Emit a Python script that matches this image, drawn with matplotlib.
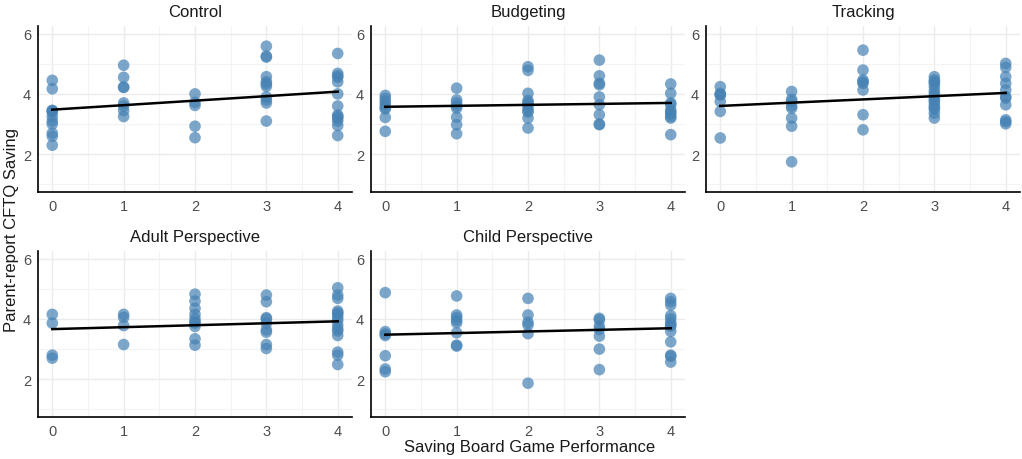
import numpy as np
import matplotlib
matplotlib.use("Agg")
import matplotlib.pyplot as plt
from matplotlib.ticker import MultipleLocator

plt.rcParams['font.family'] = ['Liberation Sans', 'DejaVu Sans']

# Saving board game performance (x) -> parent-report CFTQ saving (y), one dict entry per x level
conditions = ["Control", "Budgeting", "Tracking", "Adult Perspective", "Child Perspective"]

control = {
    0: [4.45, 4.17, 3.45, 3.45, 3.4, 3.25, 3.1, 3.0, 2.7, 2.6, 2.3],
    1: [4.95, 4.55, 4.22, 4.22, 3.7, 3.6, 3.45, 3.25],
    2: [4.0, 3.72, 3.62, 2.93, 2.55],
    3: [5.58, 5.25, 5.22, 4.57, 4.4, 4.33, 4.25, 3.9, 3.8, 3.7, 3.1],
    4: [5.34, 4.68, 4.6, 4.55, 4.4, 4.0, 3.6, 3.3, 3.25, 3.2, 3.1, 2.95, 2.62],
}
budgeting = {
    0: [3.95, 3.85, 3.75, 3.65, 3.55, 3.5, 3.22, 2.76],
    1: [4.19, 3.8, 3.7, 3.6, 3.53, 3.23, 2.98, 2.68],
    2: [4.9, 4.78, 4.02, 3.78, 3.72, 3.65, 3.55, 3.45, 3.4, 3.2, 2.87],
    3: [5.12, 4.6, 4.35, 4.3, 3.9, 3.64, 3.31, 3.0, 2.98],
    4: [4.33, 4.02, 3.7, 3.65, 3.47, 3.4, 3.34, 3.25, 3.2, 2.65],
}
tracking = {
    0: [4.24, 4.02, 3.97, 3.97, 3.75, 3.42, 2.54],
    1: [4.08, 3.82, 3.75, 3.6, 3.53, 3.2, 2.93, 1.75],
    2: [5.45, 4.79, 4.46, 4.4, 4.35, 4.13, 3.31, 2.81],
    3: [4.57, 4.46, 4.4, 4.35, 4.24, 4.1, 4.0, 3.9, 3.8, 3.75, 3.64, 3.55, 3.5, 3.36, 3.2],
    4: [5.01, 4.88, 4.57, 4.35, 4.13, 3.91, 3.86, 3.64, 3.14, 3.08, 3.01],
}
adult = {
    0: [4.15, 3.86, 2.8, 2.7],
    1: [4.15, 4.05, 3.78, 3.15],
    2: [4.82, 4.59, 4.35, 4.15, 4.0, 3.9, 3.86, 3.75, 3.34, 3.13],
    3: [4.79, 4.57, 4.04, 4.0, 3.86, 3.64, 3.56, 3.15, 3.02],
    4: [5.03, 4.79, 4.68, 4.26, 4.2, 4.15, 4.05, 3.95, 3.8, 3.67, 3.6, 3.45, 2.9, 2.8, 2.49],
}
child = {
    0: [4.87, 3.58, 3.5, 3.45, 2.78, 2.34, 2.25],
    1: [4.76, 4.13, 4.05, 3.95, 3.87, 3.54, 3.13, 3.1],
    2: [4.68, 4.13, 3.89, 3.8, 3.51, 1.87],
    3: [4.02, 3.97, 3.76, 3.65, 3.43, 3.0, 2.32],
    4: [4.68, 4.57, 4.46, 4.11, 4.0, 3.87, 3.8, 3.76, 3.59, 3.24, 2.8, 2.76, 2.57],
}
panels = [control, budgeting, tracking, adult, child]

fig = plt.figure(figsize=(10.22, 4.6), dpi=100)
W, H = 1022, 460
lefts = [38, 371, 706]
bottoms_top = [27, 252]   # top pixel of each row
pw, ph = 314, 166

for i, (name, d) in enumerate(zip(conditions, panels)):
    r, c = divmod(i, 3)
    x0 = lefts[c]
    y0 = bottoms_top[r]
    ax = fig.add_axes([x0 / W, 1 - (y0 + ph) / H, pw / W, ph / H])

    xs = np.concatenate([[k] * len(v) for k, v in d.items()])
    ys = np.concatenate([v for v in d.values()])
    ax.scatter(xs, ys, s=70, color="#4682B4", alpha=0.7, edgecolors="none", zorder=3)

    # linear fit line
    b, a = np.polyfit(xs, ys, 1)
    xl = np.array([0, 4])
    ax.plot(xl, a + b * xl, color="black", lw=1.8, zorder=4)

    ax.set_xlim(-0.2, 4.2)
    ax.set_ylim(0.75, 6.25)
    ax.set_xticks([0, 1, 2, 3, 4])
    ax.set_yticks([2, 4, 6])
    ax.xaxis.set_minor_locator(MultipleLocator(0.5))
    ax.yaxis.set_minor_locator(MultipleLocator(1))
    ax.grid(True, which="major", color="#ebebeb", lw=1.0, zorder=0)
    ax.grid(True, which="minor", color="#f3f3f3", lw=0.8, zorder=0)
    ax.set_axisbelow(True)
    for s in ["top", "right"]:
        ax.spines[s].set_visible(False)
    for s in ["left", "bottom"]:
        ax.spines[s].set_color("black")
        ax.spines[s].set_linewidth(1.2)
    ax.tick_params(which="both", length=0, labelsize=10.5, labelcolor="#4d4d4d", pad=5)
    ax.set_title(name, fontsize=12, color="#1a1a1a", pad=7)

fig.text(12 / W, 0.5, "Parent-report CFTQ Saving", rotation=90, va="center", ha="center",
         fontsize=12, color="#1a1a1a")
fig.text(530 / W, 1 - 448 / H, "Saving Board Game Performance", ha="center", va="center",
         fontsize=12, color="#1a1a1a")

fig.savefig("out.png", dpi=100)
